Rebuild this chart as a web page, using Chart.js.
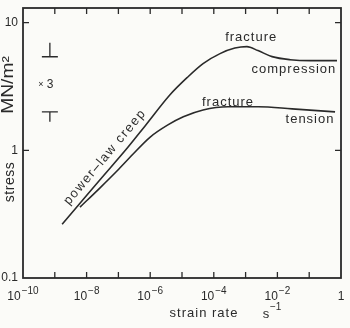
<!DOCTYPE html>
<html>
<head>
<meta charset="utf-8">
<script src="https://cdn.jsdelivr.net/npm/chart.js@4.4.0/dist/chart.umd.min.js"></script>
<style>
  body { margin: 0; background: #fbfbf8; }
  #caja { width: 350px; height: 328px; }
</style>
</head>
<body>
<div id="caja"><canvas id="grafica" width="350" height="328"></canvas></div>
<script>
// strain rate (s^-1) vs stress (MN/m2)
var compRate   = [1.7e-9, 6.2e-9, 2.6e-8, 1.9e-7, 6.9e-7, 4.2e-6, 1.44e-5, 4.6e-5, 1.57e-4, 4.6e-4, 1.1e-3, 2.45e-3, 6.8e-3, 2.5e-2, 0.11, 0.75];
var compStress = [0.264, 0.385, 0.585, 1.04, 1.55, 2.72, 3.70, 4.77, 5.71, 6.31, 6.48, 6.03, 5.41, 5.12, 5.03, 5.03];
var tensRate   = [6.2e-9, 2.6e-8, 9e-8, 2.9e-7, 1e-6, 3.6e-6, 1.1e-5, 4.6e-5, 2.8e-4, 2.5e-3, 2.9e-2, 0.65];
var tensStress = [0.359, 0.506, 0.688, 0.935, 1.27, 1.58, 1.83, 2.07, 2.19, 2.19, 2.11, 2.0];

// axis ticks
var xTickExp    = [-10, -8, -6, -4, -2, 0];
var xMinorExp   = [-9, -8, -7, -6, -5, -4, -3, -2, -1];
var yTickValues = [0.1, 1, 10];
var yTickLabels = ["0.1", "1", "10"];

// the "x3" scatter marker (stress band) at the left
var scatterRate = 7e-10;
var scatterBand = [2.0, 5.4];

var ink = "#2a2a2a";
var fuente = "'Liberation Sans', Arial, sans-serif";

function puntos(xs, ys) {
  return xs.map(function (v, i) { return { x: v, y: ys[i] }; });
}

// texto con letterSpacing
function texto(ctx, t, x, y, size, spacing, align) {
  ctx.font = size + "px " + fuente;
  ctx.letterSpacing = (spacing || 0) + "px";
  ctx.textAlign = align || "center";
  ctx.fillText(t, x, y);
  ctx.letterSpacing = "0px";
}

var dibujo = {
  id: "dibujo",
  afterDraw: function (chart) {
    var ctx = chart.ctx, a = chart.chartArea;
    var sx = chart.scales.x, sy = chart.scales.y;
    ctx.save();
    ctx.strokeStyle = ink;
    ctx.fillStyle = ink;
    ctx.textBaseline = "middle";

    // marco
    ctx.lineWidth = 1.8;
    ctx.strokeRect(a.left, a.top, a.right - a.left, a.bottom - a.top);

    // ticks hacia dentro
    ctx.lineWidth = 1.3;
    ctx.beginPath();
    xMinorExp.forEach(function (e) {
      var px = sx.getPixelForValue(Math.pow(10, e));
      ctx.moveTo(px, a.bottom); ctx.lineTo(px, a.bottom - 6);
      ctx.moveTo(px, a.top); ctx.lineTo(px, a.top + 6);
    });
    [1, 10].forEach(function (v) {
      var py = sy.getPixelForValue(v);
      ctx.moveTo(a.left, py); ctx.lineTo(a.left + 6, py);
      ctx.moveTo(a.right, py); ctx.lineTo(a.right - 6, py);
    });
    ctx.stroke();

    // etiquetas eje x: 10^n
    xTickExp.forEach(function (e) {
      var px = sx.getPixelForValue(Math.pow(10, e));
      var yb = a.bottom + 19;
      if (e === 0) { texto(ctx, "1", px, yb, 12); return; }
      ctx.font = "12px " + fuente;
      var w1 = ctx.measureText("10").width;
      var sup = "\u2212" + (-e);
      ctx.font = "10px " + fuente;
      var w2 = ctx.measureText(sup).width + 1;
      var x0 = px - (w1 + w2) / 2;
      texto(ctx, "10", x0, yb, 12, 0, "left");
      texto(ctx, sup, x0 + w1 + 1, yb - 6, 10, 0, "left");
    });

    // etiquetas eje y
    yTickValues.forEach(function (v, i) {
      texto(ctx, yTickLabels[i], a.left - 5, sy.getPixelForValue(v), 12, 0, "right");
    });

    // titulos
    ctx.save();
    ctx.translate(10, 182);
    ctx.rotate(-Math.PI / 2);
    texto(ctx, "stress", 0, 0, 14, 0.5);
    ctx.restore();
    ctx.save();
    ctx.translate(9, 85);
    ctx.rotate(-Math.PI / 2);
    ctx.scale(1.2, 1);
    texto(ctx, "MN/m\u00b2", 0, 0, 16, 0);
    ctx.restore();

    texto(ctx, "strain rate", 204, 313, 13, 1);
    texto(ctx, "s", 266, 314, 13);
    texto(ctx, "\u22121", 270, 307, 10, 0, "left");

    // anotaciones en coordenadas de datos
    var notas = [
      { t: "fracture", x: 1.5e-3, y: 7.6 },
      { t: "compression", x: 3.3e-2, y: 4.28 },
      { t: "fracture", x: 2.8e-4, y: 2.39 },
      { t: "tension", x: 0.106, y: 1.73 }
    ];
    notas.forEach(function (n) {
      texto(ctx, n.t, sx.getPixelForValue(n.x), sy.getPixelForValue(n.y), 13, 1);
    });

    ctx.save();
    ctx.translate(sx.getPixelForValue(3.8e-8), sy.getPixelForValue(0.885));
    ctx.rotate(-50 * Math.PI / 180);
    texto(ctx, "power\u2013law creep", 0, 0, 13, 1.5);
    ctx.restore();

    // marcador x3
    var mx = sx.getPixelForValue(scatterRate);
    var hi = sy.getPixelForValue(scatterBand[1]);
    var lo = sy.getPixelForValue(scatterBand[0]);
    ctx.lineWidth = 1.3;
    ctx.beginPath();
    ctx.moveTo(mx - 8, hi); ctx.lineTo(mx + 8, hi);
    ctx.moveTo(mx, hi); ctx.lineTo(mx, hi - 14);
    ctx.moveTo(mx - 8, lo); ctx.lineTo(mx + 8, lo);
    ctx.moveTo(mx, lo); ctx.lineTo(mx, lo + 10);
    ctx.stroke();
    var my = (hi + lo) / 2;
    texto(ctx, "\u00d7", mx - 9, my, 9);
    texto(ctx, "3", mx - 3, my, 12, 0, "left");

    ctx.restore();
  }
};

new Chart(document.getElementById("grafica"), {
  type: "line",
  data: {
    datasets: [
      { label: "compression", data: puntos(compRate, compStress) },
      { label: "tension", data: puntos(tensRate, tensStress) }
    ]
  },
  options: {
    responsive: false,
    animation: false,
    layout: { padding: { left: 23, right: 9, top: 8, bottom: 50 } },
    elements: {
      line: { borderColor: ink, borderWidth: 1.6, cubicInterpolationMode: "monotone", fill: false },
      point: { radius: 0 }
    },
    plugins: { legend: { display: false }, tooltip: { enabled: false } },
    scales: {
      x: { type: "logarithmic", min: 1e-10, max: 1, display: false },
      y: { type: "logarithmic", min: 0.1, max: 13, display: false }
    }
  },
  plugins: [dibujo]
});
</script>
</body>
</html>
